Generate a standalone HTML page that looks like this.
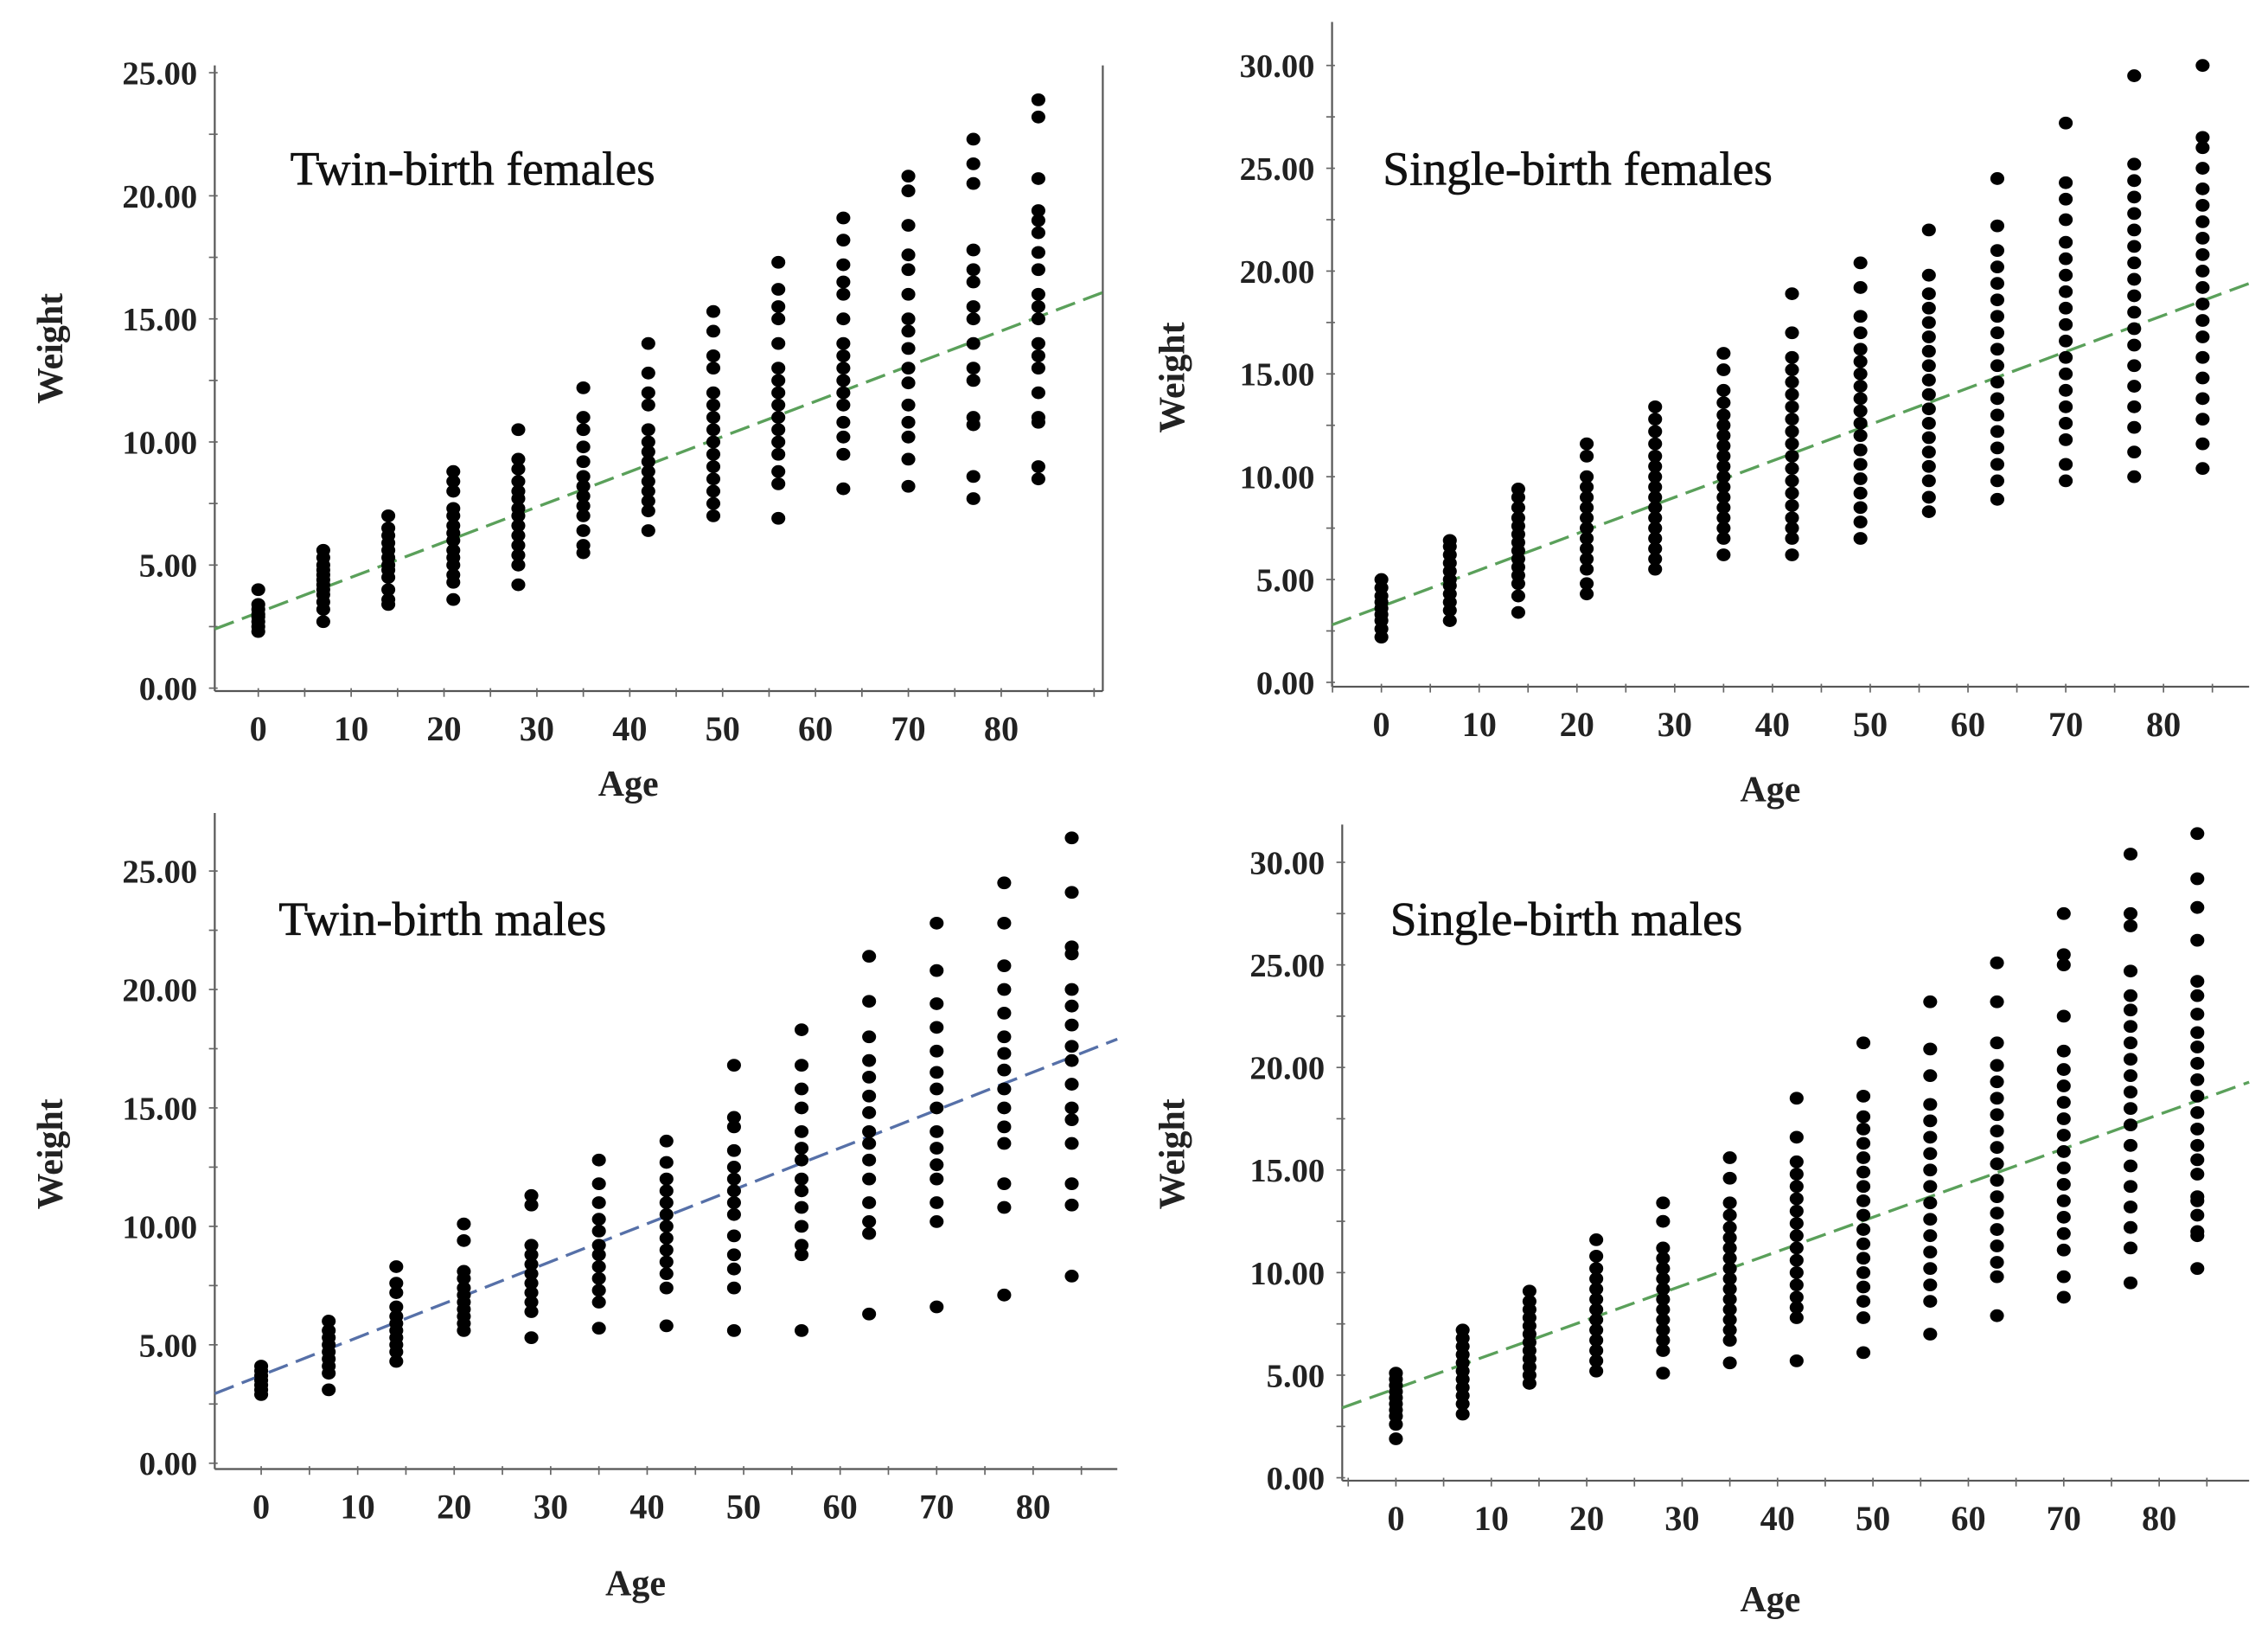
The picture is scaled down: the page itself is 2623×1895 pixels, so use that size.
<!DOCTYPE html>
<html><head><meta charset="utf-8">
<style>
html,body{margin:0;padding:0;background:#fff;}
svg{display:block;}
</style></head>
<body>
<svg id="chart" width="2623" height="1895" viewBox="0 0 1563 1129" xmlns="http://www.w3.org/2000/svg"></svg>
<script>
const ages = [0,7,14,21,28,35,42,49,56,63,70,77,84];
const xTicks = [0,10,20,30,40,50,60,70,80];
const yTicks25 = [0,5,10,15,20,25];
const yTicks30 = [0,5,10,15,20,25,30];

const twinFemales = [
[2.3,2.5,2.7,2.9,3.0,3.2,3.4,4.0],
[2.7,3.2,3.5,3.8,4.0,4.2,4.4,4.6,4.8,5.0,5.3,5.6],
[3.4,3.6,4.0,4.5,4.8,5.0,5.3,5.6,5.9,6.2,6.5,7.0],
[3.6,4.3,4.6,5.0,5.3,5.6,6.0,6.3,6.6,7.0,7.3,8.0,8.4,8.8],
[4.2,5.0,5.4,5.8,6.2,6.6,7.0,7.3,7.7,8.0,8.4,8.9,9.3,10.5],
[5.5,5.8,6.4,7.0,7.4,7.8,8.2,8.6,9.2,9.8,10.5,11.0,12.2],
[6.4,7.2,7.6,8.0,8.4,8.8,9.2,9.6,10.0,10.5,11.5,12.0,12.8,14.0],
[7.0,7.5,8.0,8.5,9.0,9.5,10.0,10.5,11.0,11.5,12.0,13.0,13.5,14.5,15.3],
[6.9,8.3,8.8,9.5,10.0,10.5,11.0,11.5,12.0,12.5,13.0,14.0,15.0,15.5,16.2,17.3],
[8.1,9.5,10.2,10.8,11.5,12.0,12.5,13.0,13.5,14.0,15.0,16.0,16.5,17.2,18.2,19.1],
[8.2,9.3,10.2,10.8,11.5,12.4,13.0,13.8,14.5,15.0,16.0,17.0,17.6,18.8,20.2,20.8],
[7.7,8.6,10.7,11.0,12.5,13.0,14.0,15.0,15.5,16.5,17.0,17.8,20.5,21.3,22.3],
[8.5,9.0,10.8,11.0,12.0,13.0,13.5,14.0,15.0,15.5,16.0,17.0,17.7,18.5,19.0,19.4,20.7,23.2,23.9]
];
const singleFemales = [
[2.2,2.6,3.0,3.3,3.6,3.9,4.2,4.6,5.0],
[3.0,3.5,3.9,4.3,4.7,5.0,5.4,5.8,6.2,6.6,6.9],
[3.4,4.2,4.8,5.2,5.6,6.0,6.4,6.8,7.2,7.6,8.0,8.5,9.0,9.4],
[4.3,4.8,5.5,6.0,6.5,7.0,7.5,8.0,8.5,9.0,9.5,10.0,11.0,11.6],
[5.5,6.0,6.5,7.0,7.5,8.0,8.5,9.0,9.5,10.0,10.5,11.0,11.6,12.2,12.8,13.4],
[6.2,7.0,7.5,8.0,8.5,9.0,9.5,10.0,10.5,11.0,11.5,12.0,12.5,13.0,13.6,14.2,15.2,16.0],
[6.2,7.0,7.5,8.0,8.6,9.2,9.8,10.4,11.0,11.6,12.2,12.8,13.4,14.0,14.6,15.2,15.8,17.0,18.9],
[7.0,7.8,8.5,9.2,9.9,10.6,11.3,12.0,12.6,13.2,13.8,14.4,15.0,15.6,16.2,17.0,17.8,19.2,20.4],
[8.3,9.0,9.8,10.5,11.2,11.9,12.6,13.3,14.0,14.7,15.4,16.1,16.8,17.5,18.2,18.9,19.8,22.0],
[8.9,9.8,10.6,11.4,12.2,13.0,13.8,14.6,15.4,16.2,17.0,17.8,18.6,19.4,20.2,21.0,22.2,24.5],
[9.8,10.6,11.8,12.6,13.4,14.2,15.0,15.8,16.6,17.4,18.2,19.0,19.8,20.6,21.4,22.5,23.5,24.3,27.2],
[10.0,11.2,12.4,13.4,14.4,15.4,16.4,17.2,18.0,18.8,19.6,20.4,21.2,22.0,22.8,23.6,24.4,25.2,29.5],
[10.4,11.6,12.8,13.8,14.8,15.8,16.8,17.6,18.4,19.2,20.0,20.8,21.6,22.4,23.2,24.0,25.0,26.0,26.5,30.0]
];
const twinMales = [
[2.9,3.1,3.3,3.5,3.7,3.9,4.1],
[3.1,3.8,4.1,4.4,4.7,5.0,5.3,5.6,6.0],
[4.3,4.7,5.0,5.3,5.6,5.9,6.2,6.6,7.2,7.6,8.3],
[5.6,5.9,6.2,6.5,6.8,7.1,7.4,7.8,8.1,9.4,10.1],
[5.3,6.4,6.8,7.2,7.6,8.0,8.4,8.8,9.2,10.9,11.3],
[5.7,6.8,7.3,7.8,8.3,8.8,9.2,9.8,10.3,11.0,11.8,12.8],
[5.8,7.4,8.0,8.5,9.0,9.5,10.0,10.5,11.0,11.5,12.0,12.7,13.6],
[5.6,7.4,8.2,8.8,9.6,10.5,11.0,11.5,12.0,12.5,13.2,14.2,14.6,16.8],
[5.6,8.8,9.2,10.0,10.8,11.5,12.0,12.8,13.3,14.0,15.0,15.8,16.8,18.3],
[6.3,9.7,10.2,11.0,12.0,12.8,13.5,14.0,14.8,15.5,16.3,17.0,18.0,19.5,21.4],
[6.6,10.2,11.0,12.0,12.6,13.3,14.0,15.0,15.8,16.5,17.4,18.4,19.4,20.8,22.8],
[7.1,10.8,11.8,13.5,14.2,15.0,15.8,16.6,17.3,18.0,19.0,20.0,21.0,22.8,24.5],
[7.9,10.9,11.8,13.5,14.5,15.0,16.0,17.0,17.6,18.5,19.3,20.0,21.5,21.8,24.1,26.4]
];
const singleMales = [
[1.9,2.6,3.0,3.3,3.6,3.9,4.2,4.5,4.8,5.1],
[3.1,3.6,4.0,4.4,4.8,5.2,5.6,6.0,6.4,6.8,7.2],
[4.6,5.0,5.4,5.8,6.2,6.6,7.0,7.4,7.8,8.2,8.6,9.1],
[5.2,5.7,6.2,6.7,7.2,7.7,8.2,8.7,9.2,9.7,10.2,10.8,11.6],
[5.1,6.2,6.7,7.2,7.7,8.2,8.7,9.2,9.7,10.2,10.7,11.2,12.5,13.4],
[5.6,6.7,7.2,7.7,8.2,8.7,9.2,9.7,10.2,10.7,11.2,11.7,12.2,12.8,13.4,14.6,15.6],
[5.7,7.8,8.3,8.8,9.4,10.0,10.6,11.2,11.8,12.4,13.0,13.6,14.2,14.8,15.4,16.6,18.5],
[6.1,7.8,8.6,9.3,10.0,10.7,11.4,12.1,12.8,13.5,14.2,14.9,15.6,16.3,17.0,17.6,18.6,21.2],
[7.0,8.6,9.4,10.2,11.0,11.8,12.6,13.4,14.2,15.0,15.8,16.6,17.4,18.2,19.6,20.9,23.2],
[7.9,9.8,10.5,11.3,12.1,12.9,13.7,14.5,15.3,16.1,16.9,17.7,18.5,19.3,20.1,21.2,23.2,25.1],
[8.8,9.8,11.1,11.9,12.7,13.5,14.3,15.1,15.9,16.7,17.5,18.3,19.1,19.9,20.8,22.5,25.0,25.5,27.5],
[9.5,11.2,12.2,13.2,14.2,15.2,16.2,17.2,18.0,18.8,19.6,20.4,21.2,22.0,22.8,23.5,24.7,26.9,27.5,30.4],
[10.2,11.8,12.0,12.8,13.5,13.7,14.8,15.5,16.2,17.0,17.8,18.6,19.4,20.2,21.0,21.7,22.6,23.5,24.2,26.2,27.8,29.2,31.4]
];
const fitIntercepts = [3.07, 3.69, 3.71, 4.35];
const fitSlopes = [0.143, 0.177, 0.16, 0.167];

const NS = "http://www.w3.org/2000/svg";
const svg = document.getElementById('chart');
function mk(tag, attrs, parent){
  const e = document.createElementNS(NS, tag);
  for (const k in attrs) e.setAttribute(k, attrs[k]);
  (parent||svg).appendChild(e);
  return e;
}

const panels = [
 {name:'twin-birth-females', title:'Twin-birth females', data:twinFemales, yTicks:yTicks25,
  ax:148, ay:476, top:45, right:760, rightBorder:true, x0:178, xu:6.4, y0:474, yu:(474-50)/25,
  tx:200, ty:127, wlx:35, wly:240, agex:433, agey:548, lineColor:'#5aa05a'},
 {name:'single-birth-females', title:'Single-birth females', data:singleFemales, yTicks:yTicks30,
  ax:918, ay:473, top:15, right:1550, rightBorder:false, x0:952, xu:(1491-952)/80, y0:470, yu:(470-45)/30,
  tx:953, ty:127, wlx:808, wly:260, agex:1220, agey:552, lineColor:'#5aa05a'},
 {name:'twin-birth-males', title:'Twin-birth males', data:twinMales, yTicks:yTicks25,
  ax:148, ay:1012, top:560, right:770, rightBorder:false, x0:180, xu:(712-180)/80, y0:1008, yu:(1008-600)/25,
  tx:192, ty:644, wlx:35, wly:795, agex:438, agey:1099, lineColor:'#5670a8'},
 {name:'single-birth-males', title:'Single-birth males', data:singleMales, yTicks:yTicks30,
  ax:925, ay:1020, top:568, right:1550, rightBorder:false, x0:962, xu:(1488-962)/80, y0:1018, yu:(1018-594)/30,
  tx:958, ty:644, wlx:808, wly:795, agex:1220, agey:1110, lineColor:'#5aa05a'}
];

panels.forEach((p, pi) => {
  const g = mk('g', {});
  
  
  const X = a => p.x0 + a * p.xu;
  const Y = v => p.y0 - v * p.yu;
  const ya = mk('line', {x1:p.ax, y1:p.top, x2:p.ax, y2:p.ay, stroke:'#555', 'stroke-width':1.3}, g);
  
  
  const xa = mk('line', {x1:p.ax, y1:p.ay, x2:p.right, y2:p.ay, stroke:'#555', 'stroke-width':1.3}, g);
  
  
  if (p.rightBorder) {
    const rb = mk('line', {x1:p.right, y1:p.top, x2:p.right, y2:p.ay, stroke:'#555', 'stroke-width':1.3}, g);
    
    
  }
  const yMax = p.yTicks[p.yTicks.length-1];
  for (let v = 0; v <= yMax; v += 2.5) {
    mk('line', {x1:p.ax-4, y1:Y(v), x2:p.ax+2, y2:Y(v), stroke:'#666', 'stroke-width':1}, g);
  }
  p.yTicks.forEach(v => {
    const t = mk('text', {x:p.ax-12, y:Y(v)+8, 'text-anchor':'end', 'font-family':'"Liberation Serif", serif', 'font-weight':'bold', 'font-size':23, fill:'#222'}, g);
    t.textContent = v.toFixed(2);
    
    
  });
  for (let a = -5; X(a) <= p.right; a += 5) {
    if (X(a) < p.ax) continue;
    mk('line', {x1:X(a), y1:p.ay-2, x2:X(a), y2:p.ay+4, stroke:'#666', 'stroke-width':1}, g);
  }
  xTicks.forEach(a => {
    const t = mk('text', {x:X(a), y:p.ay+34, 'text-anchor':'middle', 'font-family':'"Liberation Serif", serif', 'font-weight':'bold', 'font-size':24, fill:'#222'}, g);
    t.textContent = a;
    
    
  });
  const wl = mk('text', {x:p.wlx, y:p.wly, 'text-anchor':'middle', transform:`rotate(-90 ${p.wlx} ${p.wly})`, 'font-family':'"Liberation Serif", serif', 'font-weight':'bold', 'font-size':25, fill:'#222', dy:8}, g);
  wl.textContent = 'Weight';
  
  
  const al = mk('text', {x:p.agex, y:p.agey, 'text-anchor':'middle', 'font-family':'"Liberation Serif", serif', 'font-weight':'bold', 'font-size':25, fill:'#222'}, g);
  al.textContent = 'Age';
  
  
  const tt = mk('text', {x:p.tx, y:p.ty, 'font-family':'"Liberation Serif", serif', 'font-size':33, 'stroke':'#111', 'stroke-width':0.4, fill:'#111'}, g);
  tt.textContent = p.title;
  
  
  const aL = (p.ax - p.x0) / p.xu, aR = (p.right - p.x0) / p.xu;
  const b0 = fitIntercepts[pi], b1 = fitSlopes[pi];
  const fl = mk('line', {x1:X(aL), y1:Y(b0+b1*aL), x2:X(aR), y2:Y(b0+b1*aR), stroke:p.lineColor, 'stroke-width':2, 'stroke-dasharray':'14 6'}, g);
  
  
  p.data.forEach((grp, gi) => {
    grp.forEach(v => {
      const c = mk('ellipse', {cx:X(ages[gi]), cy:Y(v), rx:4.8, ry:4.4, fill:'#000'}, g);
      
      
    });
  });
});
</script>
</body></html>
